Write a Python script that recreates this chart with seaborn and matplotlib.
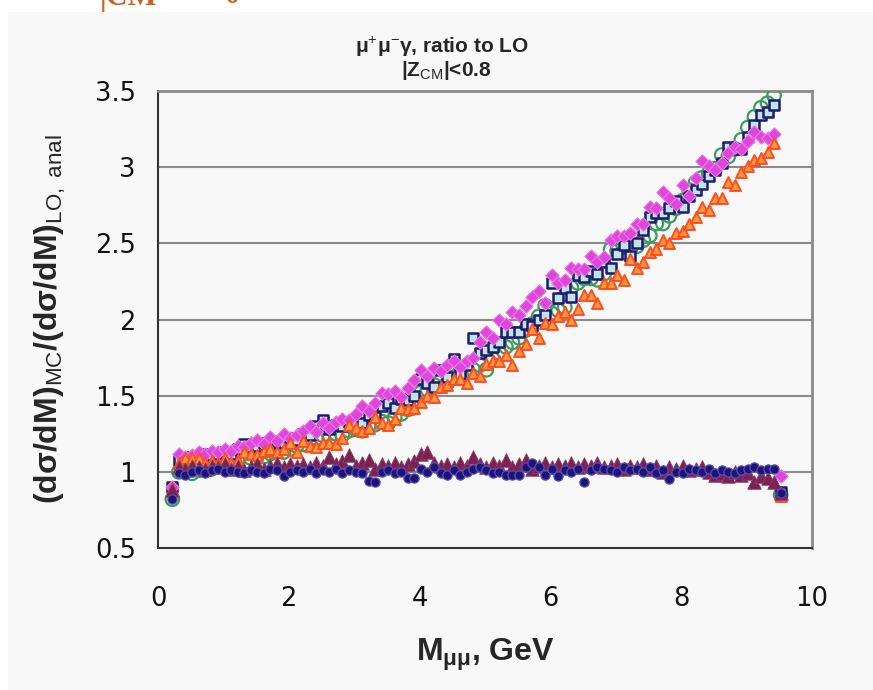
import numpy as np
import pandas as pd
import matplotlib
matplotlib.use('Agg')
import matplotlib.pyplot as plt
from matplotlib.patches import Rectangle
from matplotlib.ticker import MultipleLocator
import seaborn as sns

# bin centres in M_mumu (GeV), 0.1 GeV bins
mass = np.round(0.22 + 0.1 * np.arange(94), 2)

# rising series (ratio to LO, analytic)
magenta = [0.90,
           1.12, 1.10, 1.11, 1.13, 1.12, 1.14, 1.13, 1.15, 1.14,
           1.17, 1.16, 1.19, 1.21, 1.18, 1.23, 1.20, 1.25, 1.22, 1.24,
           1.27, 1.30, 1.26, 1.32, 1.29, 1.33, 1.35, 1.34, 1.38, 1.43,
           1.40, 1.45, 1.52, 1.51, 1.53, 1.49, 1.55, 1.60, 1.67, 1.63,
           1.68, 1.66, 1.70, 1.73, 1.69, 1.73, 1.75, 1.85, 1.92, 1.88,
           2.00, 1.97, 2.05, 2.03, 2.09, 2.15, 2.19, 2.11, 2.29, 2.24,
           2.26, 2.34, 2.33, 2.33, 2.42, 2.38, 2.41, 2.52, 2.55, 2.55,
           2.57, 2.63, 2.63, 2.74, 2.73, 2.84, 2.80, 2.76, 2.88, 2.81,
           2.93, 3.04, 3.01, 2.98, 3.03, 3.09, 3.13, 3.12, 3.17, 3.23,
           3.20, 3.19, 3.22, 0.97]

squares = [0.90,
           1.08, 1.09, 1.10, 1.10, 1.12, 1.11, 1.12, 1.13, 1.12,
           1.15, 1.18, 1.16, 1.17, 1.19, 1.18, 1.20, 1.19, 1.22, 1.21,
           1.25, 1.24, 1.30, 1.34, 1.28, 1.31, 1.30, 1.33, 1.32, 1.32,
           1.37, 1.36, 1.43, 1.45, 1.42, 1.48, 1.47, 1.50, 1.61, 1.58,
           1.56, 1.67, 1.62, 1.74, 1.64, 1.70, 1.88, 1.78, 1.80, 1.82,
           1.85, 1.92, 1.92, 1.92, 1.97, 1.96, 2.00, 2.03, 2.24, 2.14,
           2.21, 2.15, 2.29, 2.28, 2.32, 2.30, 2.38, 2.34, 2.43, 2.49,
           2.42, 2.50, 2.59, 2.67, 2.70, 2.70, 2.73, 2.78, 2.74, 2.81,
           2.85, 2.89, 2.94, 2.98, 3.03, 3.13, 3.12, 3.12, 3.20, 3.28,
           3.34, 3.36, 3.41, 0.87]

circles = [0.82,
           1.00, 1.00, 0.99, 1.01, 1.02, 1.02, 1.04, 1.03, 1.05,
           1.08, 1.06, 1.09, 1.11, 1.10, 1.12, 1.14, 1.13, 1.15, 1.17,
           1.18, 1.21, 1.22, 1.24, 1.22, 1.25, 1.24, 1.27, 1.28, 1.27,
           1.30, 1.31, 1.33, 1.32, 1.36, 1.38, 1.41, 1.45, 1.52, 1.54,
           1.57, 1.60, 1.58, 1.62, 1.66, 1.67, 1.67, 1.70, 1.67, 1.74,
           1.78, 1.82, 1.85, 1.88, 1.93, 1.97, 2.02, 2.09, 2.04, 2.06,
           2.08, 2.21, 2.24, 2.27, 2.27, 2.26, 2.30, 2.46, 2.45, 2.44,
           2.46, 2.48, 2.52, 2.55, 2.63, 2.63, 2.68, 2.73, 2.78, 2.85,
           2.90, 2.93, 2.96, 2.99, 3.08, 3.07, 3.12, 3.18, 3.26, 3.33,
           3.39, 3.42, 3.47, 0.85]

triangles = [0.89,
             1.06, 1.09, 1.09, 1.09, 1.06, 1.07, 1.06, 1.09, 1.06,
             1.08, 1.13, 1.12, 1.11, 1.14, 1.15, 1.13, 1.15, 1.19, 1.13,
             1.20, 1.17, 1.16, 1.19, 1.19, 1.18, 1.22, 1.31, 1.29, 1.27,
             1.29, 1.36, 1.32, 1.31, 1.35, 1.42, 1.41, 1.42, 1.46, 1.50,
             1.49, 1.56, 1.57, 1.61, 1.61, 1.58, 1.65, 1.63, 1.71, 1.73,
             1.73, 1.77, 1.70, 1.79, 1.84, 1.94, 1.88, 1.98, 1.97, 2.02,
             2.05, 2.00, 2.07, 2.16, 2.16, 2.11, 2.24, 2.24, 2.29, 2.26,
             2.40, 2.34, 2.38, 2.44, 2.46, 2.52, 2.50, 2.57, 2.58, 2.63,
             2.67, 2.74, 2.72, 2.80, 2.80, 2.90, 2.88, 2.97, 3.01, 3.05,
             3.06, 3.10, 3.16, 0.84]

# flat series
navy = [0.82,
        0.99, 0.98, 1.00, 1.01, 0.99, 1.01, 1.02, 1.00, 1.01,
        1.00, 0.99, 1.01, 1.00, 0.99, 1.02, 1.01, 0.97, 1.00, 1.01,
        1.00, 1.02, 0.99, 1.01, 1.00, 1.02, 0.99, 1.01, 1.00, 0.99,
        0.94, 0.93, 1.00, 1.01, 0.99, 1.00, 0.96, 0.96, 1.02, 1.00,
        1.03, 0.99, 0.98, 1.01, 0.98, 1.00, 1.02, 1.03, 1.01, 0.99,
        1.00, 0.98, 0.98, 0.98, 1.03, 1.06, 1.03, 0.98, 1.02, 0.97,
        1.01, 1.00, 1.02, 0.93, 1.01, 1.03, 1.02, 1.01, 1.00, 1.03,
        1.01, 1.02, 1.00, 1.03, 0.99, 1.01, 0.95, 1.00, 0.99, 1.02,
        1.01, 1.00, 1.02, 0.99, 1.01, 1.00, 0.99, 1.01, 1.02, 1.03,
        1.01, 1.02, 1.02, 0.86]

maroon = [0.88,
          1.03, 1.02, 1.04, 1.03, 1.02, 1.04, 1.03, 1.05, 1.02,
          1.04, 1.01, 1.03, 1.05, 1.02, 1.04, 1.06, 1.03, 1.05, 1.04,
          1.05, 1.03, 1.06, 1.04, 1.10, 1.05, 1.07, 1.11, 1.04, 1.06,
          1.08, 1.02, 1.05, 1.04, 1.06, 1.03, 1.05, 1.07, 1.12, 1.13,
          1.06, 1.04, 1.05, 1.03, 1.06, 1.04, 1.10, 1.05, 1.03, 1.06,
          1.04, 1.08, 1.03, 1.05, 1.08, 1.02, 1.04, 1.06, 1.03, 1.05,
          1.04, 1.06, 1.03, 1.05, 1.04, 1.06, 1.03, 1.04, 1.05, 1.02,
          1.04, 1.03, 1.05, 1.02, 1.04, 1.00, 1.03, 1.02, 1.04, 1.01,
          1.02, 1.03, 1.00, 0.98, 0.99, 0.97, 1.00, 0.98, 0.99, 0.93,
          0.97, 0.96, 0.93, 0.86]

df = pd.DataFrame({'M': mass, 'magenta': magenta, 'squares': squares,
                   'circles': circles, 'triangles': triangles,
                   'navy': navy, 'maroon': maroon})

sns.set_style('white')
plt.rcParams['font.family'] = ['Liberation Sans', 'DejaVu Sans']
plt.rcParams['mathtext.fontset'] = 'custom'
plt.rcParams['mathtext.rm'] = 'Liberation Sans'
plt.rcParams['mathtext.bf'] = 'Liberation Sans:bold'
plt.rcParams['mathtext.it'] = 'Liberation Sans:italic'

fig = plt.figure(figsize=(8.73, 6.90), dpi=100, facecolor='white')
fig.patches.append(Rectangle((8 / 873, 0), 1, 1 - 12 / 690, transform=fig.transFigure,
                             facecolor='#f8f8f8', edgecolor='none', zorder=-10))
ax = fig.add_axes([158 / 873, 1 - 548 / 690, 654 / 873, 457 / 690])
ax.set_facecolor('none')

# grid lines
for yv in [1.0, 1.5, 2.0, 2.5, 3.0]:
    ax.axhline(yv, color='#8a8a8a', lw=1.5, zorder=0)

sns.scatterplot(data=df, x='M', y='circles', ax=ax, marker='o', s=95,
                color='none', edgecolor='#3c9c5e', linewidth=1.6, zorder=3)
sns.scatterplot(data=df, x='M', y='squares', ax=ax, marker='s', s=46,
                color='#bde6e2', edgecolor='#1e1a6e', linewidth=1.8, zorder=4)
sns.scatterplot(data=df, x='M', y='magenta', ax=ax, marker='D', s=46,
                color='#e046dc', edgecolor='#ea7ae6', linewidth=0.8, zorder=5)
sns.scatterplot(data=df, x='M', y='triangles', ax=ax, marker='^', s=62,
                color='#ff9a3a', edgecolor='#ff4c22', linewidth=1.4, zorder=6)
sns.scatterplot(data=df, x='M', y='maroon', ax=ax, marker='^', s=95,
                color='#7a2352', edgecolor='#8e3a68', linewidth=0.6, zorder=7)
sns.scatterplot(data=df, x='M', y='navy', ax=ax, marker='o', s=44,
                color='#1c1478', edgecolor='#5a4eb0', linewidth=0.9, zorder=8)

ax.set_xlim(0, 10)
ax.set_ylim(0.5, 3.5)
ax.xaxis.set_major_locator(MultipleLocator(2))
ax.xaxis.set_minor_locator(MultipleLocator(0.5))
ax.yaxis.set_major_locator(MultipleLocator(0.5))
ax.yaxis.set_minor_locator(MultipleLocator(0.1))
ax.set_yticks([0.5, 1, 1.5, 2, 2.5, 3, 3.5])
ax.set_yticklabels(['0.5', '1', '1.5', '2', '2.5', '3', '3.5'])
ax.tick_params(axis='both', which='major', direction='out', length=7, width=1.2,
               color='#333333', labelsize=18.5, labelcolor='#111111')
ax.tick_params(axis='x', which='major', pad=20)
ax.tick_params(axis='y', which='major', pad=9)
ax.tick_params(axis='both', which='minor', direction='in', length=4, width=1.0, color='#555555')
for lab in ax.get_xticklabels() + ax.get_yticklabels():
    lab.set_family(['DejaVu Sans'])

for side in ['left', 'bottom']:
    ax.spines[side].set_color('#333333')
    ax.spines[side].set_linewidth(1.5)
for side in ['top', 'right']:
    ax.spines[side].set_color('#8a8a8a')
    ax.spines[side].set_linewidth(2.0)

ax.set_xlabel(r'M$_{\mathbf{μμ}}$, GeV', fontsize=23, fontweight='bold')
ax.xaxis.set_label_coords(0.5, -0.195)
ax.set_ylabel(r'(dσ/dM)$_{\mathrm{MC}}$/(dσ/dM)$_{\mathrm{LO,\ anal}}$', fontsize=23, fontweight='bold')
ax.yaxis.set_label_coords(-0.138, 0.5)

title_font = ['Liberation Sans Narrow', 'Liberation Sans', 'DejaVu Sans']
fig.text(442 / 873, 1 - 47 / 690, r'μ$^{+}$μ$^{-}$γ, ratio to LO', ha='center', va='center',
         fontsize=15, fontweight='bold', family=title_font)
fig.text(446 / 873, 1 - 71 / 690, r'|Z$_{\mathrm{CM}}$|<0.8', ha='center', va='center',
         fontsize=15, fontweight='bold', family=title_font)

# clipped slide heading above the chart
fig.text(100 / 873, 1 - 5 / 690, '|CM', ha='left', va='baseline', fontsize=22,
         fontweight='bold', family=['Liberation Serif', 'DejaVu Serif'], color='#c8641e')
fig.text(225 / 873, 1 - 3 / 690, '0', ha='left', va='baseline', fontsize=22,
         fontweight='bold', family=['Liberation Serif', 'DejaVu Serif'], color='#c8641e')

fig.savefig('out.png', dpi=100, facecolor=fig.get_facecolor())
